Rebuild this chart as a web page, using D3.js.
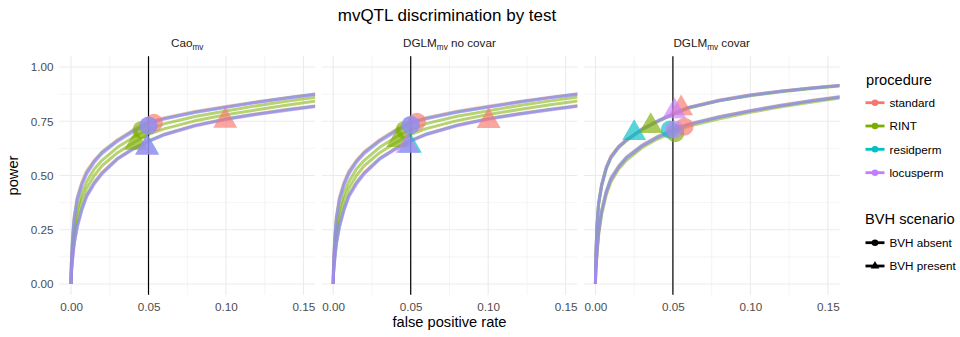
<!DOCTYPE html>
<html><head><meta charset="utf-8">
<script src="https://cdn.jsdelivr.net/npm/d3@7"></script>
<style>
body{margin:0;background:#fff}
svg{display:block}
text{font-family:"Liberation Sans",Arial,Helvetica,sans-serif}
</style>
</head><body>
<svg id="chart" width="960" height="337"></svg>
<script>
// ---------------- DATA ----------------
const procedures = ["standard", "RINT", "residperm", "locusperm"];
const procColors = ["#F8766D", "#7CAE00", "#00BFC4", "#C77CFF"];
const scenarios = ["BVH absent", "BVH present"];
const testNames = ["Cao", "DGLM", "DGLM"];
const testSubs = ["mv", "mv", "mv"];
const testSuffix = ["", " no covar", " covar"];
const xTicks = [0, 0.05, 0.10, 0.15];
const yTicks = [0, 0.25, 0.5, 0.75, 1.0];
const alphaLine = 0.05;

// false positive rate grid for curves
const fprGrid = [0, 0.0002, 0.001, 0.002, 0.004, 0.007, 0.01, 0.015, 0.02, 0.03, 0.04, 0.05, 0.06, 0.08, 0.10, 0.12, 0.14, 0.16];

// power curves: rows = standard, RINT, residperm, locusperm
const caoAbsent = [
  [0, 0.10, 0.22, 0.31, 0.40, 0.47, 0.52, 0.57, 0.61, 0.665, 0.71, 0.745, 0.765, 0.795, 0.818, 0.84, 0.86, 0.878],
  [0, 0.08, 0.17, 0.25, 0.34, 0.42, 0.47, 0.53, 0.57, 0.63, 0.675, 0.712, 0.738, 0.772, 0.797, 0.822, 0.843, 0.863],
  [0, 0.09, 0.21, 0.30, 0.39, 0.46, 0.51, 0.565, 0.605, 0.66, 0.705, 0.740, 0.762, 0.792, 0.815, 0.838, 0.858, 0.876],
  [0, 0.09, 0.20, 0.29, 0.385, 0.455, 0.505, 0.56, 0.60, 0.657, 0.70, 0.737, 0.760, 0.790, 0.814, 0.837, 0.857, 0.875]
];
const caoPresent = [
  [0, 0.05, 0.12, 0.19, 0.27, 0.35, 0.41, 0.47, 0.515, 0.58, 0.625, 0.66, 0.69, 0.732, 0.762, 0.785, 0.805, 0.823],
  [0, 0.06, 0.14, 0.22, 0.31, 0.39, 0.44, 0.50, 0.545, 0.605, 0.65, 0.69, 0.715, 0.752, 0.78, 0.803, 0.825, 0.845],
  [0, 0.05, 0.12, 0.185, 0.265, 0.345, 0.405, 0.465, 0.51, 0.577, 0.622, 0.658, 0.688, 0.730, 0.760, 0.783, 0.803, 0.821],
  [0, 0.05, 0.11, 0.18, 0.26, 0.34, 0.40, 0.46, 0.507, 0.575, 0.62, 0.656, 0.686, 0.728, 0.758, 0.781, 0.801, 0.820]
];
const dglmNoAbsent = [
  [0, 0.10, 0.22, 0.31, 0.40, 0.47, 0.52, 0.57, 0.61, 0.665, 0.71, 0.746, 0.766, 0.796, 0.819, 0.841, 0.861, 0.879],
  [0, 0.08, 0.17, 0.25, 0.34, 0.42, 0.47, 0.53, 0.57, 0.63, 0.675, 0.713, 0.739, 0.773, 0.798, 0.823, 0.844, 0.864],
  [0, 0.09, 0.21, 0.30, 0.39, 0.46, 0.51, 0.565, 0.605, 0.66, 0.705, 0.741, 0.763, 0.793, 0.816, 0.839, 0.859, 0.877],
  [0, 0.09, 0.20, 0.29, 0.385, 0.455, 0.505, 0.56, 0.60, 0.657, 0.70, 0.738, 0.761, 0.791, 0.815, 0.838, 0.858, 0.876]
];
const dglmNoPresent = [
  [0, 0.05, 0.12, 0.19, 0.27, 0.35, 0.41, 0.47, 0.515, 0.58, 0.625, 0.662, 0.692, 0.733, 0.763, 0.786, 0.806, 0.824],
  [0, 0.06, 0.14, 0.22, 0.31, 0.39, 0.44, 0.50, 0.545, 0.605, 0.65, 0.69, 0.716, 0.753, 0.781, 0.804, 0.826, 0.846],
  [0, 0.05, 0.12, 0.185, 0.265, 0.345, 0.405, 0.465, 0.51, 0.577, 0.622, 0.66, 0.69, 0.731, 0.761, 0.784, 0.804, 0.822],
  [0, 0.05, 0.11, 0.18, 0.26, 0.34, 0.40, 0.46, 0.507, 0.575, 0.62, 0.658, 0.688, 0.729, 0.759, 0.782, 0.802, 0.821]
];
const dglmCovAbsent = [
  [0, 0.06, 0.15, 0.24, 0.34, 0.43, 0.49, 0.545, 0.585, 0.64, 0.68, 0.712, 0.738, 0.772, 0.80, 0.825, 0.847, 0.866],
  [0, 0.05, 0.13, 0.22, 0.32, 0.41, 0.47, 0.53, 0.57, 0.628, 0.668, 0.70, 0.727, 0.762, 0.791, 0.817, 0.839, 0.859],
  [0, 0.06, 0.15, 0.24, 0.335, 0.425, 0.485, 0.54, 0.582, 0.637, 0.677, 0.709, 0.735, 0.770, 0.798, 0.823, 0.845, 0.864],
  [0, 0.06, 0.14, 0.235, 0.33, 0.42, 0.48, 0.537, 0.58, 0.635, 0.675, 0.708, 0.734, 0.769, 0.797, 0.822, 0.844, 0.863]
];
const dglmCovPresent = [
  [0, 0.12, 0.27, 0.37, 0.46, 0.54, 0.59, 0.635, 0.665, 0.715, 0.752, 0.785, 0.815, 0.848, 0.872, 0.89, 0.905, 0.918],
  [0, 0.11, 0.26, 0.36, 0.45, 0.53, 0.58, 0.628, 0.66, 0.71, 0.748, 0.781, 0.81, 0.844, 0.868, 0.886, 0.901, 0.914],
  [0, 0.12, 0.27, 0.37, 0.455, 0.535, 0.585, 0.632, 0.663, 0.713, 0.75, 0.783, 0.813, 0.846, 0.870, 0.888, 0.903, 0.916],
  [0, 0.12, 0.265, 0.365, 0.455, 0.535, 0.585, 0.632, 0.663, 0.713, 0.75, 0.783, 0.813, 0.846, 0.870, 0.888, 0.903, 0.916]
];

// points at nominal alpha: order standard, RINT, residperm, locusperm (absent), then same (present)
const caoPointFpr = [0.0535, 0.0455, 0.050, 0.050, 0.0995, 0.042, 0.0492, 0.049];
const caoPointPower = [0.743, 0.710, 0.730, 0.730, 0.752, 0.650, 0.629, 0.628];
const dglmNoPointFpr = [0.054, 0.046, 0.050, 0.050, 0.1003, 0.042, 0.0495, 0.048];
const dglmNoPointPower = [0.748, 0.710, 0.733, 0.733, 0.751, 0.663, 0.637, 0.637];
const dglmCovPointFpr = [0.0575, 0.0515, 0.048, 0.051, 0.0553, 0.0357, 0.025, 0.051];
const dglmCovPointPower = [0.725, 0.695, 0.712, 0.712, 0.810, 0.728, 0.696, 0.796];

const panelCurves = [[caoAbsent, caoPresent], [dglmNoAbsent, dglmNoPresent], [dglmCovAbsent, dglmCovPresent]];
const panelPoints = [[caoPointFpr, caoPointPower], [dglmNoPointFpr, dglmNoPointPower], [dglmCovPointFpr, dglmCovPointPower]];

// ---------------- LAYOUT ----------------
const svg = d3.select("#chart");
const panelLefts = [59.4, 321.6, 583.8];
const panelW = 255.7;
const panelTop = 56.2, panelBottom = 294.8;
const font = "'Liberation Sans', Arial, sans-serif";

const y = d3.scaleLinear().domain([-0.05, 1.05]).range([panelBottom, panelTop]);

// title
svg.append("text").attr("x", 447).attr("y", 20.5).attr("text-anchor", "middle")
  .attr("font-size", 17).attr("fill", "#000").text("mvQTL discrimination by test");

const lineGen = (x) => d3.line().x(d => x(d[0])).y(d => y(d[1]));
const triPath = (r) => `M0,${-r}L${r*0.866},${r/2}L${-r*0.866},${r/2}Z`;

panelLefts.forEach((left, pi) => {
  const x = d3.scaleLinear().domain([-0.0075, 0.1575]).range([left, left + panelW]);
  const g = svg.append("g");

  // clip
  const cid = "clip" + pi;
  svg.append("clipPath").attr("id", cid).append("rect")
    .attr("x", left).attr("y", panelTop).attr("width", panelW).attr("height", panelBottom - panelTop);

  // minor grid
  const xMinor = [0.025, 0.075, 0.125];
  const yMinor = [0.125, 0.375, 0.625, 0.875];
  g.selectAll(".xminor").data(xMinor).join("line")
    .attr("x1", d => x(d)).attr("x2", d => x(d)).attr("y1", panelTop).attr("y2", panelBottom)
    .attr("stroke", "#EBEBEB").attr("stroke-width", 0.55);
  g.selectAll(".yminor").data(yMinor).join("line")
    .attr("y1", d => y(d)).attr("y2", d => y(d)).attr("x1", left).attr("x2", left + panelW)
    .attr("stroke", "#EBEBEB").attr("stroke-width", 0.55);
  // major grid
  g.selectAll(".xmajor").data(xTicks).join("line")
    .attr("x1", d => x(d)).attr("x2", d => x(d)).attr("y1", panelTop).attr("y2", panelBottom)
    .attr("stroke", "#EBEBEB").attr("stroke-width", 1.1);
  g.selectAll(".ymajor").data(yTicks).join("line")
    .attr("y1", d => y(d)).attr("y2", d => y(d)).attr("x1", left).attr("x2", left + panelW)
    .attr("stroke", "#EBEBEB").attr("stroke-width", 1.1);

  // curves
  const cg = g.append("g").attr("clip-path", `url(#${cid})`);
  procedures.forEach((p, k) => {
    [0, 1].forEach(s => {
      const vals = panelCurves[pi][s][k];
      const pts = fprGrid.map((f, i) => [f, vals[i]]);
      cg.append("path").attr("d", lineGen(x)(pts))
        .attr("fill", "none").attr("stroke", procColors[k])
        .attr("stroke-width", 3).attr("stroke-opacity", 0.55)
        .attr("stroke-linejoin", "round").attr("stroke-linecap", "butt");
    });
  });

  // vertical line at nominal alpha
  g.append("line").attr("x1", x(alphaLine)).attr("x2", x(alphaLine))
    .attr("y1", panelTop).attr("y2", panelBottom).attr("stroke", "#000").attr("stroke-width", 1.2);

  // points
  const [pf, pp] = panelPoints[pi];
  procedures.forEach((p, k) => {
    [0, 1].forEach(s => {
      const idx = s * 4 + k;
      const cx = x(pf[idx]), cy = y(pp[idx]);
      if (s === 0) {
        g.append("circle").attr("cx", cx).attr("cy", cy).attr("r", 9)
          .attr("fill", procColors[k]).attr("fill-opacity", 0.65);
      } else {
        g.append("path").attr("d", triPath(13.8)).attr("transform", `translate(${cx},${cy})`)
          .attr("fill", procColors[k]).attr("fill-opacity", 0.65);
      }
    });
  });

  // x axis
  const xa = g.append("g").attr("transform", `translate(0,${panelBottom})`)
    .call(d3.axisBottom(x).tickValues(xTicks).tickFormat(d3.format(".2f")).tickSize(0).tickPadding(7.5));
  xa.select(".domain").remove();
  xa.selectAll("text").attr("font-size", 11.7).attr("fill", "#4D4D4D").attr("font-family", font);

  // y axis only first panel
  if (pi === 0) {
    const ya = g.append("g").attr("transform", `translate(${left},0)`)
      .call(d3.axisLeft(y).tickValues(yTicks).tickFormat(d3.format(".2f")).tickSize(0).tickPadding(6));
    ya.select(".domain").remove();
    ya.selectAll("text").attr("font-size", 11.7).attr("fill", "#4D4D4D").attr("font-family", font);
  }

  // strip label
  const st = svg.append("text").attr("x", left + panelW / 2).attr("y", 47.3)
    .attr("text-anchor", "middle").attr("font-size", 11.7).attr("fill", "#1A1A1A");
  st.append("tspan").text(testNames[pi]);
  st.append("tspan").attr("font-size", 8.2).attr("dy", 2.5).text(testSubs[pi]);
  st.append("tspan").attr("dy", -2.5).text(testSuffix[pi]);
});

// axis titles
svg.append("text").attr("x", 449.5).attr("y", 327).attr("text-anchor", "middle")
  .attr("font-size", 14.67).attr("fill", "#000").text("false positive rate");
svg.append("text").attr("transform", "translate(17.5,175.5) rotate(-90)").attr("text-anchor", "middle")
  .attr("font-size", 14.67).attr("fill", "#000").text("power");

// legends
const lg = svg.append("g");
lg.append("text").attr("x", 866).attr("y", 84.5).attr("font-size", 14.67).text("procedure");
const procRowY = [102.7, 126, 149.3, 172.7];
procedures.forEach((p, k) => {
  const cy = procRowY[k];
  lg.append("line").attr("x1", 865.5).attr("x2", 884.5).attr("y1", cy).attr("y2", cy)
    .attr("stroke", procColors[k]).attr("stroke-width", 2.8);
  lg.append("circle").attr("cx", 875).attr("cy", cy).attr("r", 3.3).attr("fill", procColors[k]);
  lg.append("text").attr("x", 889.5).attr("y", cy + 4.2).attr("font-size", 11.7).attr("fill", "#000").text(p);
});
lg.append("text").attr("x", 865).attr("y", 223.5).attr("font-size", 14.67).text("BVH scenario");
const scenRowY = [242.7, 266];
scenarios.forEach((s, k) => {
  const cy = scenRowY[k];
  lg.append("line").attr("x1", 865.5).attr("x2", 884.5).attr("y1", cy).attr("y2", cy)
    .attr("stroke", "#000").attr("stroke-width", 2.8);
  if (k === 0) lg.append("circle").attr("cx", 875).attr("cy", cy).attr("r", 3.3).attr("fill", "#000");
  else lg.append("path").attr("d", triPath(5)).attr("transform", `translate(875,${cy})`).attr("fill", "#000");
  lg.append("text").attr("x", 889.5).attr("y", cy + 4.2).attr("font-size", 11.7).attr("fill", "#000").text(s);
});
</script>
</body></html>
